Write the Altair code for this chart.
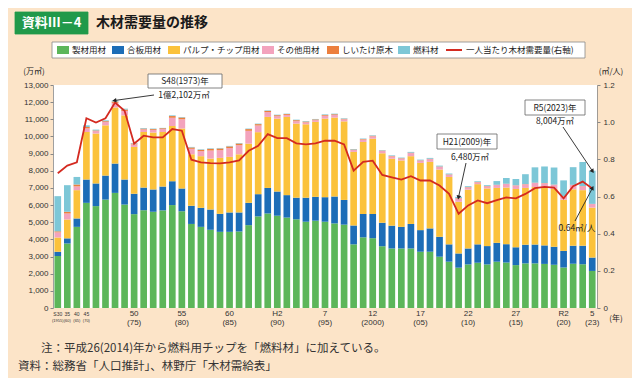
import altair as alt
import pandas as pd

# ---------------- data (万m3, m3/人) ----------------
YEARS = [1955, 1960, 1965] + list(range(1970, 2024))

SEIZAI = [3030, 3760, 4730,
          6130, 5940, 6320, 6710, 6030, 5470, 5700, 5610, 5690, 6000,
          5640, 4900, 4730, 4560, 4440, 4440, 4460, 4830, 5340, 5510,
          5380, 5270, 5170, 5030, 5090, 5030, 4930, 4860, 3710, 4120,
          4070, 3600, 3470, 3470, 3470, 3280, 3280, 2990, 2700, 2350,
          2540, 2640, 2540, 2700, 2650, 2500, 2600, 2600, 2570, 2520,
          2360, 2580, 2550, 2160]
GOHAN = [250, 300, 490,
         1360, 1320, 1400, 1710, 1460, 1190, 1320, 1300, 1390, 1390,
         1320, 1060, 1110, 1180, 1050, 1130, 1110, 1300, 1295, 1490,
         1410, 1310, 1260, 1400, 1390, 1430, 1570, 1440, 1100, 1360,
         1410, 1370, 1330, 1260, 1430, 1260, 1360, 1160, 1010, 830,
         930, 1070, 1070, 1100, 1070, 1040, 1090, 1100, 1080, 1050,
         970, 1050, 1080, 780]
PULP = [830, 1100, 1650,
        2770, 2910, 2930, 3270, 3740, 2730, 3240, 3320, 3180, 3220,
        3500, 3000, 3010, 2970, 3260, 3240, 3390, 3450, 3615, 4140,
        4250, 4560, 4320, 4280, 4370, 4580, 4600, 4580, 4290, 4200,
        4390, 4050, 3900, 3870, 3950, 3920, 3880, 3920, 3930, 3010,
        3430, 3510, 3360, 3200, 3300, 3400, 3310, 3350, 3410, 3370,
        2980, 3290, 3240, 2910]
SONOTA = [300, 350, 220,
          210, 140, 190, 270, 260, 150, 150, 150, 170, 480,
          540, 320, 290, 470, 450, 510, 530, 750, 390, 280,
          140, 120, 140, 110, 100, 170, 150, 120, 110, 140,
          140, 130, 140, 110, 180, 130, 160, 160, 130, 200,
          130, 110, 120, 170, 210, 200, 210, 240, 210, 240,
          210, 250, 230, 210]
SHIITAKE = [60, 100, 110,
            80, 40, 50, 80, 80, 50, 50, 50, 50, 100,
            100, 80, 80, 100, 100, 100, 100, 100, 80, 70,
            60, 50, 60, 50, 45, 45, 45, 30, 30, 30,
            30, 25, 25, 25, 25, 20, 20, 20, 20, 20,
            20, 20, 20, 15, 15, 15, 15, 15, 15, 15,
            10, 10, 10, 10]
NENRYO = [2050, 1550, 440,
          100, 50, 50, 62, 50, 30, 35, 30, 20, 40,
          40, 30, 30, 30, 30, 30, 30, 30, 30, 30,
          30, 20, 30, 30, 25, 35, 35, 30, 30, 30,
          30, 25, 35, 35, 45, 40, 50, 50, 50, 70,
          50, 40, 50, 215, 335, 365, 575, 895, 965, 995,
          910, 1030, 1400, 1934]
PER_CAPITA = [0.725, 0.766, 0.784,
              1.021, 0.998, 1.021, 1.105, 1.061, 0.884, 0.927, 0.918, 0.918, 0.963,
              0.954, 0.798, 0.784, 0.780, 0.778, 0.784, 0.794, 0.846, 0.873, 0.936,
              0.914, 0.914, 0.886, 0.880, 0.886, 0.900, 0.900, 0.880, 0.739, 0.787,
              0.793, 0.716, 0.703, 0.691, 0.709, 0.686, 0.686, 0.659, 0.614, 0.507,
              0.552, 0.579, 0.564, 0.580, 0.595, 0.590, 0.614, 0.645, 0.652, 0.648,
              0.590, 0.655, 0.680, 0.643]

CATS = ["製材用材", "合板用材", "パルプ・チップ用材", "その他用材", "しいたけ原木", "燃料材"]
LINE_NAME = "一人当たり木材需要量(右軸)"

TICK_YEARS = ["1955", "1960", "1965", "1970", "1975", "1980", "1985", "1990",
              "1995", "2000", "2005", "2010", "2015", "2020", "2023"]
TICK_TOP = ["S30", "35", "40", "45", "50", "55", "60", "H2", "7", "12", "17", "22", "27", "R2", "5"]
TICK_BOTTOM = ["(1955)", "(60)", "(65)", "(70)", "(75)", "(80)", "(85)", "(90)", "(95)",
               "(2000)", "(05)", "(10)", "(15)", "(20)", "(23)"]

# ---------------- styles / layout ----------------
COLORS = ["#5cb65a", "#1c6db7", "#fbc23b", "#f3a3bd", "#ec7f3e", "#7dc7d7"]
LINE_COLOR = "#d42a20"
JP = "Noto Sans CJK JP"
NUM = "Liberation Sans"
W, H = 544, 223
LEGEND_X = [4, 59, 115, 209, 274, 345, 393]   # plot coords of legend swatches

YSTR = [str(y) for y in YEARS]
SERIES = [SEIZAI, GOHAN, PULP, SONOTA, SHIITAKE, NENRYO]
rows = []
for i, y in enumerate(YSTR):
    for k, cat in enumerate(CATS):
        rows.append({"year": y, "cat": cat, "ord": k, "value": SERIES[k][i]})
bar_df = pd.DataFrame(rows)
line_df = pd.DataFrame({"year": YSTR, "pc": PER_CAPITA})
tick_df = pd.DataFrame({"year": TICK_YEARS, "top": TICK_TOP, "bottom": TICK_BOTTOM,
                        "small": [1, 1, 1, 1] + [0] * 11})
ONE = pd.DataFrame({"k": [0]})

XS = alt.Scale(type="band", domain=YSTR, paddingInner=0.3, paddingOuter=0.15)
YL = alt.Scale(domain=[0, 13000], nice=False, zero=True)
YR = alt.Scale(domain=[0, 1.2], nice=False, zero=True)


def xenc():
    return alt.X("year:O", scale=XS, axis=None)


bars = alt.Chart(bar_df).mark_bar().encode(
    x=alt.X("year:O", scale=XS,
            axis=alt.Axis(labels=False, title=None, ticks=True, tickSize=2,
                          tickColor="#999", domainColor="#888", domainWidth=0.8)),
    y=alt.Y("value:Q", stack="zero", scale=YL,
            axis=alt.Axis(values=list(range(0, 13001, 1000)), format=",d", title=None,
                          grid=False, tickSize=3, tickColor="#888", domainColor="#888",
                          domainWidth=0.8, labelFontSize=8, labelColor="#333",
                          labelFont=NUM, labelPadding=2)),
    color=alt.Color("cat:N", scale=alt.Scale(domain=CATS, range=COLORS), legend=None),
    order=alt.Order("ord:Q", sort="ascending"),
)

line = alt.Chart(line_df).mark_line(color=LINE_COLOR, strokeWidth=1.8).encode(
    x=xenc(),
    y=alt.Y("pc:Q", scale=YR,
            axis=alt.Axis(orient="right", values=[0, 0.2, 0.4, 0.6, 0.8, 1.0, 1.2],
                          labelExpr="datum.value == 0 ? '0' : format(datum.value, '.1f')",
                          title=None, grid=False, tickSize=3, tickColor="#888",
                          domainColor="#888", domainWidth=0.8, labelFontSize=8,
                          labelColor="#333", labelFont=NUM, labelPadding=3)),
)


def txt(s, x, y, size=8.5, align="center", weight="normal", color="#222", font=JP):
    return alt.Chart(ONE).mark_text(text=s, fontSize=size, align=align, baseline="middle",
                                    fontWeight=weight, color=color, font=font).encode(
        x=alt.value(x), y=alt.value(y))


def box(x, x2, y, y2, fill="white", stroke="#777", sw=0.8):
    return alt.Chart(ONE).mark_rect(fill=fill, stroke=stroke, strokeWidth=sw).encode(
        x=alt.value(x), x2=alt.value(x2), y=alt.value(y), y2=alt.value(y2))


def arrow(year, val, scale, sx, sy, ang):
    d = pd.DataFrame({"year": [year], "v": [val]})
    ye = alt.Y("v:Q", scale=scale, axis=None)
    r = alt.Chart(d).mark_rule(color="#222", strokeWidth=0.9).encode(
        x=xenc(), y=ye, x2=alt.value(sx), y2=alt.value(sy))
    p = alt.Chart(d).mark_point(shape="triangle", filled=True, size=22, color="#222",
                                opacity=1, angle=ang).encode(x=xenc(), y=ye)
    return [r, p]


layers = [bars, line]

# x tick labels
big = tick_df[tick_df["small"] == 0]
small = tick_df[tick_df["small"] == 1]
layers.append(alt.Chart(big).mark_text(fontSize=8, font=NUM, color="#333", baseline="middle")
              .encode(x=xenc(), y=alt.value(H + 6), text="top:N"))
layers.append(alt.Chart(big).mark_text(fontSize=8, font=NUM, color="#333", baseline="middle")
              .encode(x=xenc(), y=alt.value(H + 15), text="bottom:N"))
layers.append(alt.Chart(small).mark_text(fontSize=5, font=NUM, color="#333", baseline="middle")
              .encode(x=xenc(), y=alt.value(H + 6), text="top:N"))
layers.append(alt.Chart(small).mark_text(fontSize=4, font=NUM, color="#333", baseline="middle")
              .encode(x=xenc(), y=alt.value(H + 13), text="bottom:N"))
layers.append(txt("(年)", 563, H + 11, size=8))

# axis unit labels
layers.append(txt("(万㎥)", -19, -13, size=8))
layers.append(txt("(㎥/人)", 558, -13, size=8))

# title
layers.append(box(-38, 35, -73, -51, fill="#21994a", stroke="#21994a"))
layers.append(txt("資料Ⅲ－4", -1.5, -62, size=13, weight="bold", color="white"))
layers.append(txt("木材需要量の推移", 43, -62, size=14, align="left", weight="bold", color="#1a1a1a"))

# legend
layers.append(box(-1, 532, -43, -27, stroke="#888"))
for i, cat in enumerate(CATS):
    lx = LEGEND_X[i]
    layers.append(box(lx, lx + 12, -39, -31, fill=COLORS[i], stroke=COLORS[i], sw=0))
    layers.append(txt(cat, lx + 15, -35, size=8.5, align="left"))
lx = LEGEND_X[6]
layers.append(alt.Chart(ONE).mark_rule(color=LINE_COLOR, strokeWidth=2).encode(
    x=alt.value(lx), x2=alt.value(lx + 16), y=alt.value(-35)))
layers.append(txt(LINE_NAME, lx + 20, -35, size=8.5, align="left"))

# annotations
layers.append(box(95, 169, -11, 3, stroke="#666"))
layers.append(txt("S48(1973)年", 132, -4, size=8.5))
layers.append(txt("1億2,102万㎥", 131, 10, size=8.5))
layers += arrow("1973", 12102, YL, 101, 10, 262)

layers.append(box(384, 444, 49, 64, stroke="#666"))
layers.append(txt("H21(2009)年", 414, 56.5, size=8.5))
layers.append(txt("6,480万㎥", 417, 72, size=8.5))
layers += arrow("2009", 6480, YL, 413, 78, 192)

layers.append(box(472, 532, 15, 30, stroke="#666"))
layers.append(txt("R5(2023)年", 502, 22.5, size=8.5))
layers.append(txt("8,004万㎥", 502, 36, size=8.5))
layers += arrow("2023", 8004, YL, 510, 42, 146)

layers.append(txt("0.64㎥/人", 524, 143, size=8.5))
layers += arrow("2023", 0.643, YR, 522, 136, 28)

# footnotes
layers.append(txt("注：平成26(2014)年から燃料用チップを「燃料材」に加えている。", -12, 264,
                  size=11.5, align="left", color="#333"))
layers.append(txt("資料：総務省「人口推計」、林野庁「木材需給表」", -35, 282,
                  size=11.5, align="left", color="#333"))

chart = alt.layer(*layers).resolve_scale(y="independent").properties(
    width=W, height=H,
    autosize=alt.AutoSizeParams(type="none"),
    padding={"left": 45, "top": 77, "right": 35, "bottom": 70},
    background="#fce4c8",
).configure_view(fill="white", stroke=None)

chart.save("out.html", embed_options={"renderer": "svg", "actions": False})
